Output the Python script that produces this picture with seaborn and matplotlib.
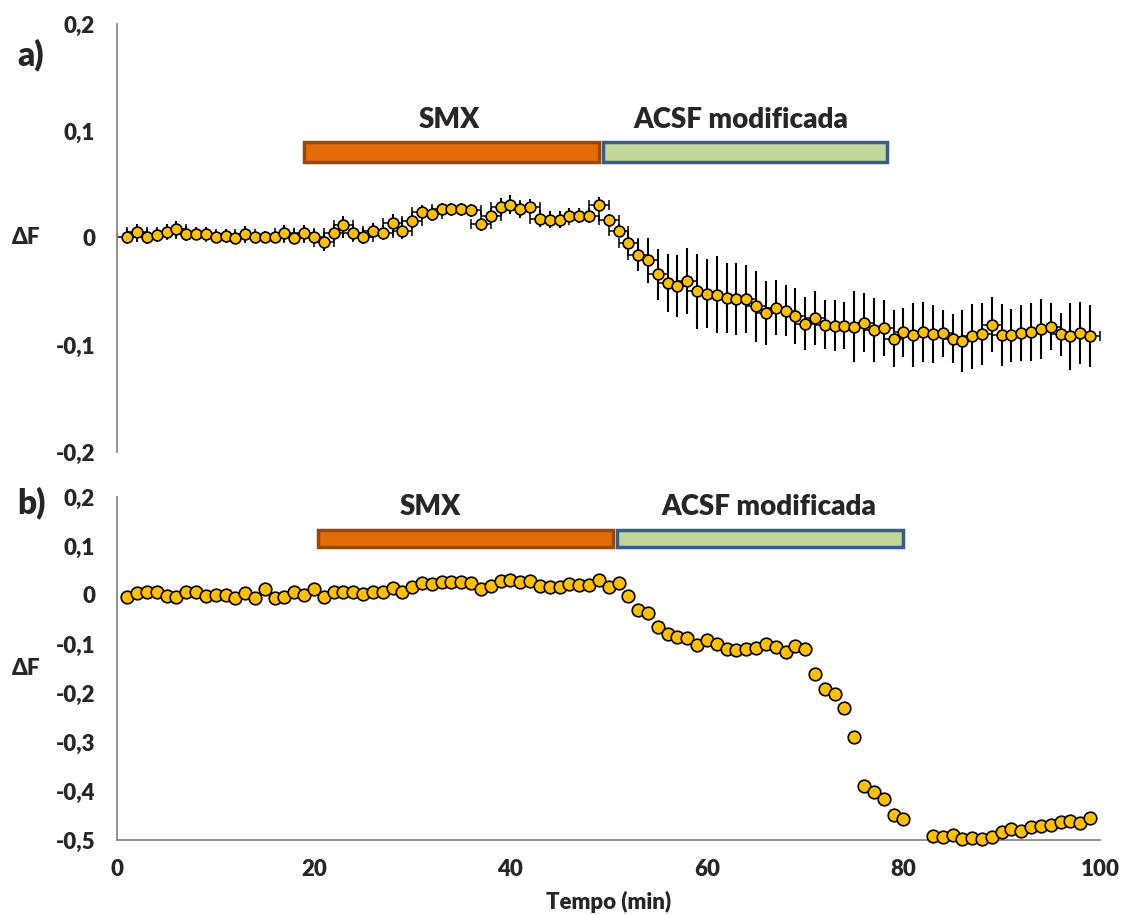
import matplotlib
matplotlib.use('Agg')
import matplotlib.pyplot as plt
import seaborn as sns
import pandas as pd
from matplotlib.patches import Rectangle

# Panel a) mean response with error bars
tiempo_a = list(range(1, 100))
delta_a = [
    0.001, 0.006, 0.001, 0.003, 0.006, 0.008, 0.004, 0.004, 0.004, 0.001,
    0.002, 0.000, 0.004, 0.001, 0.001, 0.001, 0.005, 0.000, 0.005, 0.001,
    -0.004, 0.005, 0.012, 0.005, 0.001, 0.007, 0.005, 0.014, 0.007, 0.016,
    0.024, 0.022, 0.027, 0.027, 0.027, 0.026, 0.013, 0.021, 0.029, 0.031,
    0.027, 0.029, 0.018, 0.017, 0.017, 0.021, 0.021, 0.021, 0.031, 0.017,
    0.007, -0.005, -0.016, -0.021, -0.034, -0.042, -0.045, -0.040, -0.050, -0.052,
    -0.053, -0.056, -0.057, -0.057, -0.064, -0.070, -0.065, -0.068, -0.073, -0.080,
    -0.075, -0.081, -0.082, -0.082, -0.083, -0.079, -0.086, -0.084, -0.094, -0.088,
    -0.091, -0.088, -0.090, -0.089, -0.094, -0.096, -0.092, -0.090, -0.081, -0.091,
    -0.091, -0.089, -0.088, -0.085, -0.083, -0.090, -0.092, -0.089, -0.092,
]
err_a = [
    0.007, 0.007, 0.007, 0.006, 0.007, 0.008, 0.007, 0.006, 0.006, 0.006,
    0.006, 0.006, 0.007, 0.006, 0.006, 0.006, 0.007, 0.006, 0.007, 0.007,
    0.008, 0.008, 0.009, 0.008, 0.007, 0.007, 0.007, 0.008, 0.008, 0.008,
    0.007, 0.006, 0.006, 0.006, 0.006, 0.006, 0.006, 0.007, 0.008, 0.009,
    0.008, 0.007, 0.008, 0.008, 0.008, 0.007, 0.007, 0.007, 0.007, 0.005,
    0.006, 0.012, 0.015, 0.021, 0.024, 0.027, 0.029, 0.031, 0.035, 0.032,
    0.036, 0.033, 0.034, 0.032, 0.033, 0.030, 0.026, 0.024, 0.026, 0.025,
    0.025, 0.023, 0.024, 0.022, 0.033, 0.028, 0.030, 0.026, 0.027, 0.023,
    0.030, 0.028, 0.027, 0.022, 0.023, 0.029, 0.030, 0.029, 0.026, 0.029,
    0.025, 0.026, 0.027, 0.028, 0.022, 0.020, 0.031, 0.029, 0.029,
]

# Panel b) single recording (no points at 81-82)
tiempo_b = list(range(1, 81)) + list(range(83, 100))
delta_b = [
    -0.005, 0.003, 0.007, 0.006, -0.003, -0.005, 0.007, 0.006, -0.003, 0.000,
    -0.001, -0.007, 0.003, -0.007, 0.012, -0.007, -0.005, 0.006, -0.001, 0.012,
    -0.005, 0.006, 0.006, 0.006, 0.001, 0.007, 0.006, 0.014, 0.006, 0.017,
    0.024, 0.022, 0.027, 0.027, 0.027, 0.025, 0.012, 0.018, 0.029, 0.031,
    0.027, 0.029, 0.018, 0.016, 0.017, 0.022, 0.020, 0.021, 0.031, 0.017,
    0.025, -0.003, -0.031, -0.036, -0.065, -0.080, -0.085, -0.088, -0.102, -0.092,
    -0.101, -0.111, -0.112, -0.110, -0.109, -0.101, -0.107, -0.116, -0.105, -0.111,
    -0.162, -0.192, -0.203, -0.231, -0.290, -0.390, -0.403, -0.416, -0.450, -0.458,
    -0.491, -0.493, -0.490, -0.499, -0.496, -0.499, -0.493, -0.483, -0.478, -0.482,
    -0.473, -0.471, -0.469, -0.464, -0.462, -0.466, -0.456,
]

x_ticks = [0, 20, 40, 60, 80, 100]
y_ticks_a = [0.2, 0.1, 0, -0.1, -0.2]
y_labels_a = ['0,2', '0,1', '0', '-0,1', '-0,2']
y_ticks_b = [0.2, 0.1, 0, -0.1, -0.2, -0.3, -0.4, -0.5]
y_labels_b = ['0,2', '0,1', '0', '-0,1', '-0,2', '-0,3', '-0,4', '-0,5']
tratamientos = ['SMX', 'ACSF modificada']

sns.set_style("white")
plt.rcParams['font.family'] = ['Lato', 'DejaVu Sans']
W = 'heavy'
plt.rcParams['font.weight'] = W

GRAY = '#898989'
MARKER = '#FFC000'
BAR_FILL = ['#E36C09', '#C3D69B']
BAR_EDGE = ['#984807', '#385D8A']

fig = plt.figure(figsize=(11.25, 9.15), dpi=100)
ax_a = fig.add_axes([0.1044, 0.506, 0.8733, 0.4678])
ax_b = fig.add_axes([0.1044, 0.082, 0.8733, 0.3749])

df_a = pd.DataFrame({'tiempo': tiempo_a, 'delta': delta_a, 'err': err_a})
df_b = pd.DataFrame({'tiempo': tiempo_b, 'delta': delta_b})

# error bars: vertical without caps, horizontal with caps
ax_a.errorbar(df_a['tiempo'], df_a['delta'], yerr=df_a['err'], fmt='none',
              ecolor='black', elinewidth=1.5, capsize=0, zorder=2)
ax_a.errorbar(df_a['tiempo'], df_a['delta'], xerr=1, fmt='none',
              ecolor='black', elinewidth=1.1, capsize=3.5, capthick=1.1, zorder=2)
sns.scatterplot(data=df_a, x='tiempo', y='delta', ax=ax_a, color=MARKER,
                edgecolor='black', linewidth=1.2, s=60, zorder=3, clip_on=False)
sns.scatterplot(data=df_b, x='tiempo', y='delta', ax=ax_b, color=MARKER,
                edgecolor='black', linewidth=1.2, s=82, zorder=3, clip_on=False)


def treatment_bars(ax, spans, y0, h, label_x, label_y):
    for i, (x0, x1) in enumerate(spans):
        ax.add_patch(Rectangle((x0, y0), x1 - x0, h, facecolor=BAR_FILL[i],
                               edgecolor=BAR_EDGE[i], linewidth=2.5, zorder=4,
                               clip_on=False))
        ax.text(label_x[i], label_y, tratamientos[i], ha='center', va='center',
                fontsize=20, fontweight=W)


treatment_bars(ax_a, [(19.0, 49.0), (49.4, 78.3)], 0.071, 0.019, [33.8, 63.4], 0.110)
treatment_bars(ax_b, [(20.4, 50.4), (50.8, 80.0)], 0.098, 0.035, [31.8, 66.3], 0.180)

for ax, yt, yl in [(ax_a, y_ticks_a, y_labels_a), (ax_b, y_ticks_b, y_labels_b)]:
    ax.set_xlim(0, 100)
    ax.set_ylim(min(yt), max(yt))
    ax.set_yticks(yt)
    ax.set_yticklabels(yl, fontsize=16, fontweight=W)
    ax.tick_params(axis='y', direction='out', length=6, width=1.2, color=GRAY, pad=10)
    for side in ['top', 'right']:
        ax.spines[side].set_visible(False)
    ax.spines['left'].set_color(GRAY)
    ax.spines['left'].set_linewidth(1.3)
    ax.set_ylabel('ΔF', rotation=0, fontsize=16, fontweight=W, ha='center', va='center')
    ax.yaxis.set_label_coords(-0.093, 0.5)

ax_a.spines['bottom'].set_visible(False)
ax_a.set_xticks([])
ax_a.set_xlabel('')

ax_b.spines['bottom'].set_color(GRAY)
ax_b.spines['bottom'].set_linewidth(1.3)
ax_b.set_xticks(x_ticks)
ax_b.set_xticklabels([str(t) for t in x_ticks], fontsize=16, fontweight=W)
ax_b.tick_params(axis='x', direction='out', length=6, width=1.2, color=GRAY, pad=8)
ax_b.set_xlabel('Tempo (min)', fontsize=16, fontweight=W, va='center')
ax_b.xaxis.set_label_coords(0.5, -0.18)

fig.text(17 / 1125, 1 - 55 / 915, 'a)', ha='left', va='center', fontsize=24, fontweight=W)
fig.text(17 / 1125, 1 - 503 / 915, 'b)', ha='left', va='center', fontsize=24, fontweight=W)

fig.savefig('out.png', dpi=100)
plt.close(fig)
